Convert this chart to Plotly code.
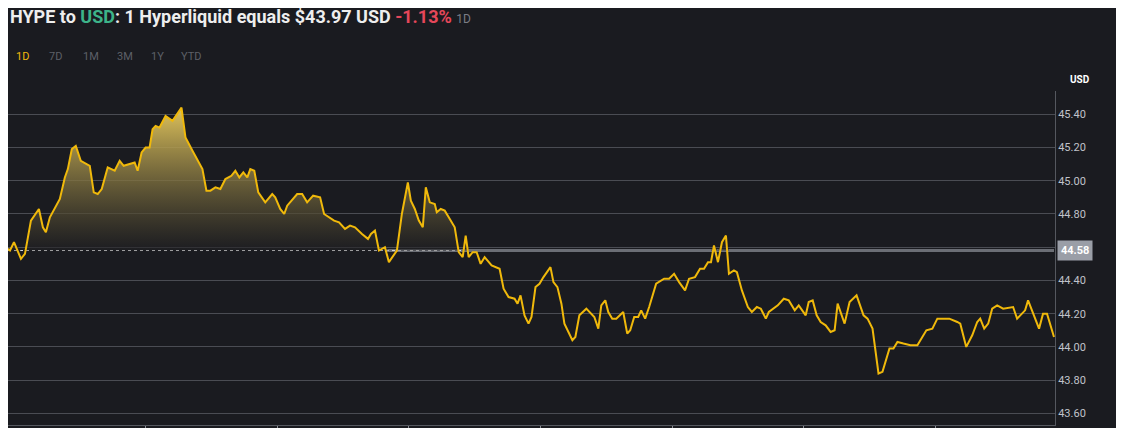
import plotly.graph_objects as go

# time steps across the day and HYPE price in USD
t = [5, 7, 11, 18, 22, 28, 36, 40, 43, 47,
     57, 62, 65, 69, 73, 78, 87, 91, 95, 99,
     105, 112, 117, 121, 132, 135, 139, 143, 147, 150,
     153, 157, 163, 170, 179, 183, 190, 200, 204, 208,
     213, 218, 223, 229, 233, 237, 241, 245, 248, 252,
     256, 263, 270, 273, 278, 282, 285, 295, 300, 305,
     311, 318, 322, 332, 337, 343, 348, 353, 360, 366,
     369, 373, 377, 383, 387, 395, 400, 406, 409, 413,
     417, 421, 424, 428, 433, 435, 439, 443, 447, 453,
     457, 461, 464, 467, 471, 475, 479, 483, 490, 498,
     502, 507, 513, 516, 519, 523, 527, 530, 534, 538,
     542, 549, 552, 556, 560, 563, 571, 574, 578, 585,
     593, 597, 600, 604, 607, 611, 615, 622, 626, 629,
     633, 637, 640, 644, 648, 655, 663, 668, 673, 678,
     684, 688, 694, 699, 703, 707, 710, 713, 717, 721,
     725, 728, 733, 736, 741, 747, 751, 756, 760, 765,
     768, 777, 783, 788, 794, 798, 805, 808, 812, 816,
     820, 825, 830, 834, 837, 844, 849, 856, 863, 867,
     872, 878, 882, 889, 893, 897, 903, 910, 917, 926,
     932, 937, 943, 949, 957, 960, 966, 972, 977, 980,
     984, 988, 992, 997, 1003, 1010, 1013, 1017, 1022, 1025,
     1028, 1039, 1043, 1047, 1054]
price = [44.59, 44.58, 44.63, 44.53, 44.56, 44.76, 44.83, 44.72, 44.69, 44.78,
         44.89, 45.02, 45.07, 45.19, 45.21, 45.12, 45.09, 44.93, 44.92, 44.95,
         45.08, 45.06, 45.12, 45.09, 45.11, 45.06, 45.17, 45.20, 45.20, 45.31,
         45.33, 45.32, 45.39, 45.36, 45.44, 45.26, 45.18, 45.07, 44.94, 44.94,
         44.96, 44.95, 45.01, 45.03, 45.06, 45.02, 45.05, 45.02, 45.07, 45.06,
         44.93, 44.87, 44.92, 44.90, 44.83, 44.80, 44.85, 44.92, 44.92, 44.87,
         44.91, 44.90, 44.80, 44.76, 44.75, 44.71, 44.73, 44.72, 44.68, 44.65,
         44.68, 44.70, 44.58, 44.60, 44.51, 44.58, 44.80, 44.99, 44.88, 44.83,
         44.76, 44.72, 44.96, 44.87, 44.86, 44.81, 44.83, 44.82, 44.78, 44.72,
         44.57, 44.54, 44.67, 44.54, 44.57, 44.57, 44.50, 44.54, 44.49, 44.47,
         44.35, 44.30, 44.29, 44.26, 44.31, 44.19, 44.14, 44.18, 44.36, 44.38,
         44.42, 44.48, 44.39, 44.36, 44.26, 44.14, 44.04, 44.06, 44.19, 44.23,
         44.18, 44.11, 44.25, 44.28, 44.21, 44.17, 44.17, 44.21, 44.08, 44.10,
         44.18, 44.18, 44.22, 44.17, 44.24, 44.38, 44.41, 44.41, 44.44, 44.39,
         44.34, 44.41, 44.42, 44.47, 44.47, 44.51, 44.51, 44.61, 44.51, 44.63,
         44.67, 44.44, 44.46, 44.45, 44.34, 44.24, 44.21, 44.24, 44.23, 44.17,
         44.21, 44.25, 44.29, 44.28, 44.22, 44.25, 44.19, 44.27, 44.28, 44.19,
         44.15, 44.13, 44.09, 44.10, 44.26, 44.14, 44.27, 44.31, 44.19, 44.17,
         44.11, 43.84, 43.85, 43.99, 43.99, 44.03, 44.02, 44.01, 44.01, 44.10,
         44.11, 44.17, 44.17, 44.17, 44.15, 44.14, 44.00, 44.07, 44.15, 44.17,
         44.11, 44.14, 44.23, 44.25, 44.23, 44.24, 44.24, 44.17, 44.20, 44.22,
         44.28, 44.11, 44.20, 44.20, 44.06]
open_price = 44.58
y_ticks = [43.6, 43.8, 44.0, 44.2, 44.4, 44.6, 44.8, 45.0, 45.2, 45.4]
y_labels = ['43.60', '43.80', '44.00', '44.20', '44.40', '', '44.80', '45.00', '45.20', '45.40']
x_ticks = [143, 275, 407, 539, 671, 803, 935]
ranges = ['1D', '7D', '1M', '3M', '1Y', 'YTD']

bg = '#1a1b20'
fig = go.Figure()

# open price reference lines
fig.add_trace(go.Scatter(x=[383, t[-1]], y=[open_price] * 2, mode='lines',
                         line=dict(color='#6b6e75', width=3), hoverinfo='skip'))
fig.add_trace(go.Scatter(x=[t[0], 460], y=[open_price] * 2, mode='lines',
                         line=dict(color='#d8d8d8', width=1, dash='dot'), hoverinfo='skip'))

# gradient fill above the open price
fig.add_trace(go.Scatter(x=t, y=[open_price] * len(t), mode='lines',
                         line=dict(width=0), hoverinfo='skip'))
fig.add_trace(go.Scatter(x=t, y=[max(p, open_price) for p in price], mode='lines',
                         line=dict(width=0), fill='tonexty',
                         fillgradient=dict(type='vertical', start=open_price, stop=max(price),
                                           colorscale=[[0, 'rgba(30,30,34,0.6)'],
                                                       [1, 'rgba(235,205,95,0.95)']]),
                         hoverinfo='skip'))
fig.add_trace(go.Scatter(x=t, y=price, mode='lines', line=dict(color='#f0b90b', width=2)))

fig.update_layout(
    width=1116, height=420, paper_bgcolor=bg, plot_bgcolor=bg,
    showlegend=False, margin=dict(l=0, r=69, t=83, b=3),
    font=dict(family='Roboto, Arial', color='#c8cad0'),
)
fig.update_xaxes(range=[5, 1055], showgrid=False, zeroline=False, showticklabels=False,
                 tickvals=x_ticks, ticks='outside', ticklen=4, tickcolor='#8a8d94',
                 showline=True, linecolor='#55585f')
fig.update_yaxes(side='right', range=[43.53, 45.54], tickvals=y_ticks, ticktext=y_labels,
                 gridcolor='#4a4c53', gridwidth=1, zeroline=False, showline=True,
                 linecolor='#55585f', ticks='', tickfont=dict(size=11, color='#c0c3ca'))

fig.add_annotation(xref='paper', yref='y', x=1.002, y=open_price, text='<b>44.58</b>',
                   showarrow=False, xanchor='left', bgcolor='#9a9ea7',
                   font=dict(size=11, color='#ffffff'), borderpad=3)
fig.add_annotation(xref='paper', yref='paper', x=1.012, y=1.012, text='<b>USD</b>',
                   showarrow=False, xanchor='left', yanchor='bottom',
                   font=dict(size=10, color='#ffffff'))
fig.add_annotation(
    xref='paper', yref='paper', x=0.0, y=1.222, xanchor='left', yanchor='middle', showarrow=False,
    text=("<b>HYPE to <span style='color:#3db489'>USD</span>: 1 Hyperliquid equals $43.97 USD "
          "<span style='color:#e5475a'>-1.13%</span></b> <span style='font-size:12px;color:#7a7d85'>1D</span>"),
    font=dict(size=18, color='#eeeeee'))
xs = [14, 47, 81, 115, 149, 179]
for label, x in zip(ranges, xs):
    fig.add_annotation(xref='paper', yref='paper', x=(x - 8) / 1047, y=1.102, xanchor='left',
                       yanchor='middle', showarrow=False, text=label,
                       font=dict(size=11, color='#f0b90b' if label == '1D' else '#5d6068'))

fig.write_html("out.html")
